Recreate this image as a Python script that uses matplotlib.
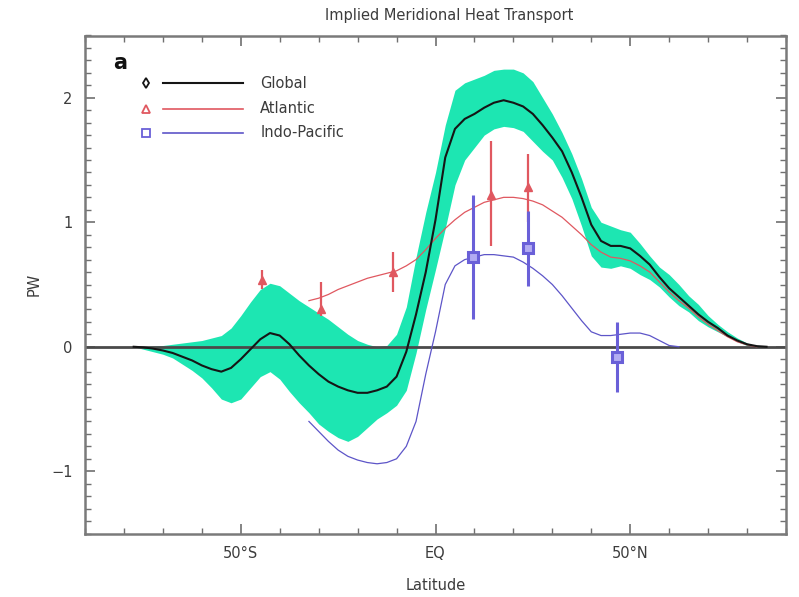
import numpy as np
import matplotlib
matplotlib.use("Agg")
import matplotlib.pyplot as plt
from matplotlib.ticker import MultipleLocator, FixedLocator, FixedFormatter

# ---- zonal-mean heat transport (PW) on a 2.5 degree latitude grid ----
lat_global = np.arange(-77.5, 85.01, 2.5)
global_mean = [
    0.0, -0.005, -0.015, -0.03, -0.05, -0.08, -0.11, -0.15, -0.18, -0.20,
    -0.17, -0.10, -0.02, 0.06, 0.11, 0.09, 0.02, -0.07, -0.15, -0.22,
    -0.28, -0.32, -0.35, -0.37, -0.37, -0.35, -0.32, -0.24, -0.04, 0.26,
    0.60, 1.02, 1.52, 1.75, 1.83, 1.87, 1.92, 1.96, 1.98, 1.96,
    1.93, 1.87, 1.78, 1.68, 1.57, 1.40, 1.20, 0.98, 0.85, 0.81,
    0.81, 0.79, 0.73, 0.66, 0.56, 0.47, 0.40, 0.33, 0.26, 0.20,
    0.15, 0.09, 0.05, 0.02, 0.005, 0.0,
]
global_upper = [
    0.0, 0.0, 0.005, 0.01, 0.02, 0.03, 0.04, 0.05, 0.07, 0.09,
    0.15, 0.25, 0.36, 0.46, 0.51, 0.49, 0.43, 0.37, 0.32, 0.27,
    0.22, 0.16, 0.10, 0.05, 0.02, 0.0, 0.01, 0.10, 0.32, 0.72,
    1.08, 1.40, 1.78, 2.06, 2.12, 2.15, 2.18, 2.22, 2.23, 2.23,
    2.20, 2.13, 2.00, 1.87, 1.72, 1.55, 1.35, 1.12, 1.00, 0.97,
    0.94, 0.92, 0.83, 0.73, 0.64, 0.58, 0.50, 0.41, 0.34, 0.25,
    0.18, 0.12, 0.07, 0.03, 0.005, 0.0,
]
global_lower = [
    0.0, -0.02, -0.04, -0.06, -0.09, -0.14, -0.19, -0.25, -0.33, -0.42,
    -0.45, -0.42, -0.33, -0.24, -0.20, -0.26, -0.36, -0.45, -0.53, -0.62,
    -0.68, -0.73, -0.76, -0.72, -0.65, -0.58, -0.53, -0.47, -0.35, -0.05,
    0.30, 0.62, 0.95, 1.30, 1.50, 1.60, 1.70, 1.75, 1.77, 1.76,
    1.73, 1.65, 1.57, 1.50, 1.36, 1.19, 0.97, 0.73, 0.64, 0.63,
    0.65, 0.63, 0.58, 0.54, 0.48, 0.40, 0.33, 0.28, 0.21, 0.16,
    0.12, 0.08, 0.04, 0.01, 0.0, 0.0,
]

lat_atlantic = np.arange(-32.5, 82.51, 2.5)
atlantic = [
    0.37, 0.39, 0.42, 0.46, 0.49, 0.52, 0.55, 0.57, 0.59, 0.61,
    0.65, 0.70, 0.78, 0.87, 0.95, 1.02, 1.08, 1.12, 1.16, 1.18,
    1.20, 1.20, 1.19, 1.17, 1.14, 1.09, 1.04, 0.97, 0.90, 0.82,
    0.76, 0.72, 0.71, 0.69, 0.65, 0.60, 0.52, 0.44, 0.37, 0.31,
    0.24, 0.18, 0.13, 0.08, 0.04, 0.015, 0.0,
]

lat_indopac = np.arange(-32.5, 62.51, 2.5)
indopac = [
    -0.60, -0.68, -0.76, -0.83, -0.88, -0.91, -0.93, -0.94, -0.93, -0.90,
    -0.80, -0.60, -0.22, 0.12, 0.50, 0.65, 0.70, 0.72, 0.74, 0.74,
    0.73, 0.72, 0.68, 0.63, 0.57, 0.50, 0.41, 0.31, 0.21, 0.12,
    0.09, 0.09, 0.10, 0.11, 0.11, 0.09, 0.05, 0.01, 0.0,
]

# ---- hydrographic section estimates ----
atl_obs_lat = [-44.5, -29.5, -11.0, 14.3, 23.7]
atl_obs_val = [0.54, 0.30, 0.60, 1.22, 1.28]
atl_obs_err_lo = [0.08, 0.05, 0.16, 0.41, 0.28]
atl_obs_err_hi = [0.08, 0.22, 0.16, 0.43, 0.27]

pac_obs_lat = [9.7, 23.7, 46.7]
pac_obs_val = [0.72, 0.79, -0.08]
pac_obs_err = [0.50, 0.30, 0.28]

x_ticks = [-50, 0, 50]
x_tick_labels = ["50\u00b0S", "EQ", "50\u00b0N"]
y_ticks = [-1, 0, 1, 2]
y_tick_labels = ["\u22121", "0", "1", "2"]

# ---- styling ----
TXT = "#3c3c3c"
BAND = "#1de6b2"
RED = "#e05860"
BLUE = "#5d55c8"
BLUE_BAR = "#6a60d8"

fig = plt.figure(figsize=(7.99, 5.97), dpi=100)
ax = fig.add_axes([85 / 799, (597 - 533.5) / 597, 701 / 799, 498 / 597])

ax.fill_between(lat_global, global_lower, global_upper, color=BAND, lw=0, zorder=1)
ax.axhline(0, color="#4a4a4a", lw=2.0, zorder=2)
ax.plot(lat_global, global_mean, color="#151515", lw=1.5, zorder=4)
ax.plot(lat_atlantic, atlantic, color=RED, lw=0.9, zorder=3)
ax.plot(lat_indopac, indopac, color=BLUE, lw=0.9, zorder=3)

ax.errorbar(atl_obs_lat, atl_obs_val, yerr=[atl_obs_err_lo, atl_obs_err_hi],
            fmt="^", color=RED, ecolor=RED, elinewidth=1.6, capsize=0,
            ms=6, mec=RED, mfc=RED, zorder=5)
ax.errorbar(pac_obs_lat, pac_obs_val, yerr=pac_obs_err,
            fmt="s", color=BLUE_BAR, ecolor=BLUE_BAR, elinewidth=2.2, capsize=0,
            ms=7.5, mec=BLUE_BAR, mfc="#b3acf2", mew=2.2, zorder=5)

ax.set_xlim(-90, 90)
ax.set_ylim(-1.5, 2.5)

ax.xaxis.set_major_locator(FixedLocator(x_ticks))
ax.xaxis.set_major_formatter(FixedFormatter(x_tick_labels))
ax.xaxis.set_minor_locator(MultipleLocator(10))
ax.yaxis.set_major_locator(FixedLocator(y_ticks))
ax.yaxis.set_major_formatter(FixedFormatter(y_tick_labels))
ax.yaxis.set_minor_locator(MultipleLocator(0.1))

ax.tick_params(which="both", direction="in", top=True, right=True,
               color="#707070", labelcolor=TXT, labelsize=10.5)
ax.tick_params(which="major", length=7, width=1.2, pad=9)
ax.tick_params(which="minor", length=4, width=1.0)
for s in ax.spines.values():
    s.set_color("#7a7a7a")
    s.set_linewidth(1.8)

ax.set_xlabel("Latitude", color=TXT, fontsize=10.5)
ax.set_ylabel("PW", color=TXT, fontsize=10.5)
ax.xaxis.set_label_coords(0.5, -0.09)
ax.yaxis.set_label_coords(-0.062, 0.5)

fig.text(0.562, 0.974, "Implied Meridional Heat Transport", ha="center",
         va="center", color=TXT, fontsize=10.5)

# ---- panel letter and key ----
tr = ax.transAxes
ax.text(0.040, 0.944, "a", transform=tr, fontsize=15, fontweight="bold",
        color="#111111", ha="left", va="center")
key = [
    ("Global", "#151515", "d", "#151515", 0.904),
    ("Atlantic", RED, "^", RED, 0.853),
    ("Indo-Pacific", BLUE, "s", BLUE_BAR, 0.805),
]
for label, lcol, mk, mcol, yk in key:
    ax.plot([0.087], [yk], marker=mk, ms=5.5, mfc="none", mec=mcol, mew=1.3,
            transform=tr, clip_on=False, ls="none")
    ax.plot([0.111, 0.225], [yk, yk], color=lcol, lw=1.5 if label == "Global" else 1.2,
            transform=tr)
    ax.text(0.250, yk, label, transform=tr, color=TXT, fontsize=10.5,
            ha="left", va="center")

fig.savefig("out.png", dpi=100)
